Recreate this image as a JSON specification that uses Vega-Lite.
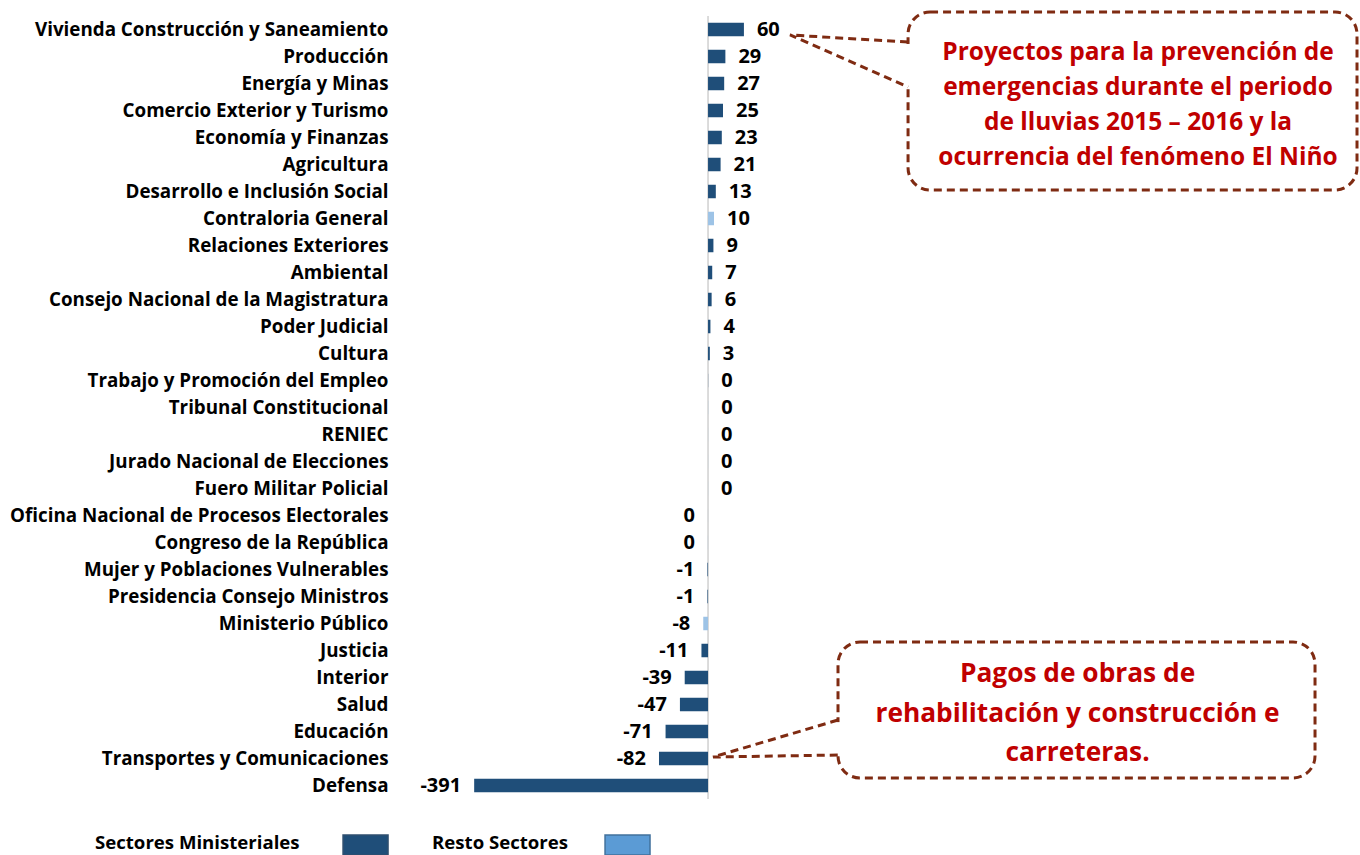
{
  "$schema": "https://vega.github.io/schema/vega-lite/v6.json",
  "width": 960,
  "height": 783,
  "autosize": {"type": "none"},
  "padding": {"left": 400, "top": 16, "right": 0, "bottom": 56},
  "background": "white",
  "config": {"view": {"stroke": null}, "font": "Open Sans"},
  "layer": [
    {
      "data": {"values": [{"v": 0}]},
      "mark": {"type": "rule", "color": "#D0D0D0", "strokeWidth": 1.5},
      "encoding": {"x": {"field": "v", "type": "quantitative", "scale": {"domain": [-515, 1090], "nice": false, "zero": false}, "axis": null}}
    },
    {
      "data": {"values": [
        {"sector": "Vivienda Construcción y Saneamiento", "value": 60, "label": "60", "grupo": "Sectores Ministeriales"},
        {"sector": "Producción", "value": 29, "label": "29", "grupo": "Sectores Ministeriales"},
        {"sector": "Energía y Minas", "value": 27, "label": "27", "grupo": "Sectores Ministeriales"},
        {"sector": "Comercio Exterior y Turismo", "value": 25, "label": "25", "grupo": "Sectores Ministeriales"},
        {"sector": "Economía y Finanzas", "value": 23, "label": "23", "grupo": "Sectores Ministeriales"},
        {"sector": "Agricultura", "value": 21, "label": "21", "grupo": "Sectores Ministeriales"},
        {"sector": "Desarrollo e Inclusión Social", "value": 13, "label": "13", "grupo": "Sectores Ministeriales"},
        {"sector": "Contraloria General", "value": 10, "label": "10", "grupo": "Resto Sectores"},
        {"sector": "Relaciones Exteriores", "value": 9, "label": "9", "grupo": "Sectores Ministeriales"},
        {"sector": "Ambiental", "value": 7, "label": "7", "grupo": "Sectores Ministeriales"},
        {"sector": "Consejo Nacional de la Magistratura", "value": 6, "label": "6", "grupo": "Sectores Ministeriales"},
        {"sector": "Poder Judicial", "value": 4, "label": "4", "grupo": "Sectores Ministeriales"},
        {"sector": "Cultura", "value": 3, "label": "3", "grupo": "Sectores Ministeriales"},
        {"sector": "Trabajo y Promoción del Empleo", "value": 0.2, "label": "0", "grupo": "Sectores Ministeriales"},
        {"sector": "Tribunal Constitucional", "value": 0.2, "label": "0", "grupo": "Resto Sectores"},
        {"sector": "RENIEC", "value": 0.1, "label": "0", "grupo": "Resto Sectores"},
        {"sector": "Jurado Nacional de Elecciones", "value": 0.1, "label": "0", "grupo": "Resto Sectores"},
        {"sector": "Fuero Militar Policial", "value": 0.1, "label": "0", "grupo": "Resto Sectores"},
        {"sector": "Oficina Nacional de Procesos Electorales", "value": -0.1, "label": "0", "grupo": "Resto Sectores"},
        {"sector": "Congreso de la República", "value": -0.2, "label": "0", "grupo": "Resto Sectores"},
        {"sector": "Mujer y Poblaciones Vulnerables", "value": -1, "label": "-1", "grupo": "Sectores Ministeriales"},
        {"sector": "Presidencia Consejo Ministros", "value": -1, "label": "-1", "grupo": "Sectores Ministeriales"},
        {"sector": "Ministerio Público", "value": -8, "label": "-8", "grupo": "Resto Sectores"},
        {"sector": "Justicia", "value": -11, "label": "-11", "grupo": "Sectores Ministeriales"},
        {"sector": "Interior", "value": -39, "label": "-39", "grupo": "Sectores Ministeriales"},
        {"sector": "Salud", "value": -47, "label": "-47", "grupo": "Sectores Ministeriales"},
        {"sector": "Educación", "value": -71, "label": "-71", "grupo": "Sectores Ministeriales"},
        {"sector": "Transportes y Comunicaciones", "value": -82, "label": "-82", "grupo": "Sectores Ministeriales"},
        {"sector": "Defensa", "value": -391, "label": "-391", "grupo": "Sectores Ministeriales"}
      ]},
      "encoding": {
        "y": {
          "field": "sector", "type": "nominal", "sort": null,
          "scale": {"paddingInner": 0.5, "paddingOuter": 0.25},
          "axis": {"title": null, "ticks": false, "tickSize": 0, "domain": false, "labelFontSize": 18.8, "labelFontWeight": "bold", "labelColor": "black", "labelPadding": 12, "labelLimit": 600, "labelFont": "Open Sans"}
        },
        "x": {"field": "value", "type": "quantitative", "axis": null}
      },
      "layer": [
        {
          "mark": {"type": "bar"},
          "encoding": {
            "x2": {"datum": 0},
            "color": {"field": "grupo", "type": "nominal", "scale": {"domain": ["Sectores Ministeriales", "Resto Sectores"], "range": ["#1F4E79", "#9DC3E6"]}, "legend": null}
          }
        },
        {
          "transform": [{"filter": "datum.value >= 0"}],
          "mark": {"type": "text", "align": "left", "baseline": "middle", "dx": 13, "fontSize": 20, "fontWeight": "bold", "color": "black"},
          "encoding": {"text": {"field": "label"}}
        },
        {
          "transform": [{"filter": "datum.value < 0"}],
          "mark": {"type": "text", "align": "right", "baseline": "middle", "dx": -13, "fontSize": 20, "fontWeight": "bold", "color": "black"},
          "encoding": {"text": {"field": "label"}}
        }
      ]
    },
    {
      "data": {"values": [
        {"id": "a", "x1": 334.4, "x2": 1085.0, "y1": -0.643, "y2": 5.722},
        {"id": "b", "x1": 217.3, "x2": 1014.8, "y1": 21.886, "y2": 26.749}
      ]},
      "mark": {"type": "rect", "fill": "transparent", "stroke": "#7F2B12", "strokeWidth": 3, "strokeDash": [8, 5], "cornerRadius": 22},
      "encoding": {
        "x": {"field": "x1", "type": "quantitative"},
        "x2": {"field": "x2"},
        "y": {"field": "y1", "type": "quantitative", "scale": {"domain": [-0.5, 27.5], "reverse": true, "nice": false, "zero": false}, "axis": null},
        "y2": {"field": "y2"}
      }
    },
    {
      "data": {"values": [
        {"id": "a", "x": 334.4, "y1": 0.50, "y2": 1.97},
        {"id": "b", "x": 217.3, "y1": 24.75, "y2": 25.86}
      ]},
      "mark": {"type": "rule", "color": "white", "strokeWidth": 6},
      "encoding": {
        "x": {"field": "x", "type": "quantitative"},
        "y": {"field": "y1", "type": "quantitative", "scale": {"domain": [-0.5, 27.5], "reverse": true, "nice": false, "zero": false}, "axis": null},
        "y2": {"field": "y2"}
      }
    },
    {
      "data": {"values": [
        {"id": "a", "o": 1, "x": 334.4, "y": 0.430},
        {"id": "a", "o": 2, "x": 137.1, "y": 0.179},
        {"id": "a", "o": 3, "x": 334.4, "y": 2.039},
        {"id": "b", "o": 1, "x": 217.3, "y": 24.675},
        {"id": "b", "o": 2, "x": 8.4, "y": 25.998},
        {"id": "b", "o": 3, "x": 217.3, "y": 25.927}
      ]},
      "mark": {"type": "line", "stroke": "#7F2B12", "strokeWidth": 3, "strokeDash": [8, 5]},
      "encoding": {
        "x": {"field": "x", "type": "quantitative"},
        "y": {"field": "y", "type": "quantitative", "scale": {"domain": [-0.5, 27.5], "reverse": true, "nice": false, "zero": false}, "axis": null},
        "detail": {"field": "id"},
        "order": {"field": "o"}
      }
    },
    {
      "data": {"values": [
        {"t": "Proyectos para la prevención de\nemergencias durante el periodo\nde lluvias 2015 – 2016 y la\nocurrencia del fenómeno El Niño", "x": 718.9, "y": 0.82}
      ]},
      "mark": {"type": "text", "align": "center", "baseline": "middle", "fontSize": 24.5, "fontWeight": "bold", "color": "#C00000", "lineBreak": "\n", "lineHeight": 35},
      "encoding": {
        "x": {"field": "x", "type": "quantitative"},
        "y": {"field": "y", "type": "quantitative", "scale": {"domain": [-0.5, 27.5], "reverse": true, "nice": false, "zero": false}, "axis": null},
        "text": {"field": "t"}
      }
    },
    {
      "data": {"values": [
        {"t": "Pagos de obras de\nrehabilitación y construcción e\ncarreteras.", "x": 617.8, "y": 23.04}
      ]},
      "mark": {"type": "text", "align": "center", "baseline": "middle", "fontSize": 26.3, "fontWeight": "bold", "color": "#C00000", "lineBreak": "\n", "lineHeight": 39.5},
      "encoding": {
        "x": {"field": "x", "type": "quantitative"},
        "y": {"field": "y", "type": "quantitative", "scale": {"domain": [-0.5, 27.5], "reverse": true, "nice": false, "zero": false}, "axis": null},
        "text": {"field": "t"}
      }
    },
    {
      "data": {"values": [
        {"k": "Sectores Ministeriales", "x1": -610.2, "x2": -535.0, "y1": 28.788, "y2": 29.503, "fill": "#1F4E79", "stroke": "#2F4F6F"},
        {"k": "Resto Sectores", "x1": -172.2, "x2": -97.0, "y1": 28.788, "y2": 29.503, "fill": "#5B9BD5", "stroke": "#41719C"}
      ]},
      "mark": {"type": "rect", "strokeWidth": 1.5},
      "encoding": {
        "x": {"field": "x1", "type": "quantitative"},
        "x2": {"field": "x2"},
        "y": {"field": "y1", "type": "quantitative", "scale": {"domain": [-0.5, 27.5], "reverse": true, "nice": false, "zero": false}, "axis": null},
        "y2": {"field": "y2"},
        "fill": {"field": "fill", "type": "nominal", "scale": null},
        "stroke": {"field": "stroke", "type": "nominal", "scale": null}
      }
    },
    {
      "data": {"values": [
        {"t": "Sectores Ministeriales", "x": -1024.9, "y": 29.074},
        {"t": "Resto Sectores", "x": -461.4, "y": 29.074}
      ]},
      "mark": {"type": "text", "align": "left", "baseline": "middle", "fontSize": 18.6, "fontWeight": "bold", "color": "black"},
      "encoding": {
        "x": {"field": "x", "type": "quantitative"},
        "y": {"field": "y", "type": "quantitative", "scale": {"domain": [-0.5, 27.5], "reverse": true, "nice": false, "zero": false}, "axis": null},
        "text": {"field": "t"}
      }
    }
  ],
  "resolve": {"scale": {"y": "independent"}}
}
